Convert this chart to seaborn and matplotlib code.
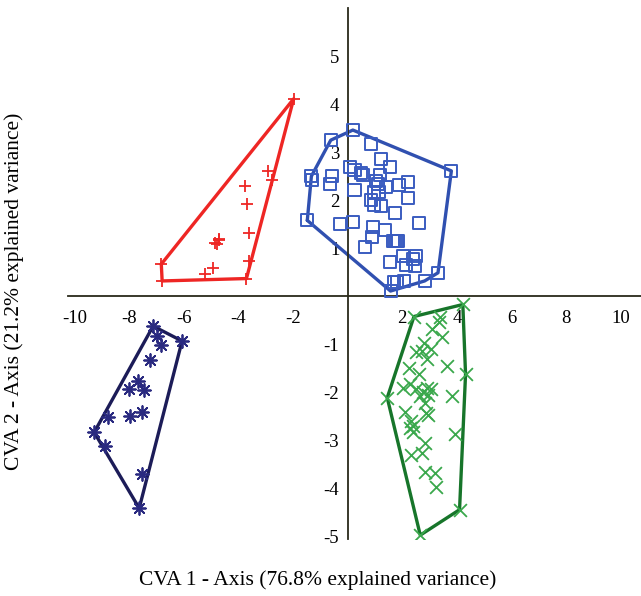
import numpy as np
import pandas as pd
import matplotlib
matplotlib.use("Agg")
import matplotlib.pyplot as plt
import seaborn as sns

# group 1 (red, plus)
red_x = [-1.98, -2.92, -2.76, -3.78, -3.68, -3.63, -3.62, -3.71, -4.73, -4.78,
         -4.70, -4.85, -4.93, -5.22, -6.83, -6.80]
red_y = [4.11, 2.61, 2.42, 2.29, 1.93, 1.32, 0.73, 0.37, 1.17, 1.08,
         1.20, 1.10, 0.58, 0.46, 0.67, 0.32]

# group 2 (blue, square)
blue_x = [0.19, -0.62, 0.84, 1.21, 1.56, 0.07, 0.25, 0.50, 0.56, 1.17,
          -1.33, -1.31, -0.58, -0.66, 1.05, 1.11, 1.42, 1.87, 2.21, 0.25,
          0.98, 1.13, 0.86, 2.21, 0.98, 1.22, 1.74, -1.48, -0.27, 0.19,
          2.60, 0.93, 1.36, 0.89, 1.66, 1.75, 1.80, 1.85, 0.64, 2.03,
          2.52, 2.39, 1.56, 2.15, 2.48, 3.31, 2.82, 2.08, 1.71, 1.80,
          1.57, 3.80]
blue_y = [3.46, 3.25, 3.16, 2.85, 2.70, 2.70, 2.62, 2.57, 2.53, 2.53,
          2.50, 2.43, 2.50, 2.33, 2.40, 2.33, 2.28, 2.31, 2.38, 2.22,
          2.17, 2.18, 2.00, 2.04, 1.91, 1.88, 1.73, 1.58, 1.50, 1.54,
          1.53, 1.45, 1.38, 1.24, 1.15, 1.15, 1.15, 1.15, 1.03, 0.84,
          0.84, 0.77, 0.71, 0.66, 0.63, 0.49, 0.32, 0.31, 0.29, 0.29,
          0.11, 2.61]

# group 3 (green, x)
green_x = [4.22, 2.43, 3.37, 3.33, 3.09, 3.46, 2.78, 3.06, 2.49, 2.90,
           2.73, 3.65, 2.23, 2.63, 4.32, 2.02, 2.30, 2.51, 2.91, 3.06,
           2.76, 2.94, 2.64, 3.82, 1.45, 2.82, 2.09, 2.88, 2.94, 2.31,
           2.39, 2.39, 2.27, 3.95, 2.82, 2.73, 2.33, 2.82, 3.21, 3.25,
           4.10, 2.66]
green_y = [-0.17, -0.42, -0.44, -0.53, -0.69, -0.85, -0.98, -1.09, -1.16, -1.30,
           -1.14, -1.45, -1.50, -1.62, -1.62, -1.90, -1.83, -1.92, -1.90, -1.93,
           -2.00, -2.06, -2.07, -2.07, -2.11, -2.21, -2.40, -2.42, -2.47, -2.59,
           -2.70, -2.82, -2.73, -2.87, -3.06, -3.25, -3.30, -3.65, -3.67, -3.96,
           -4.44, -4.97]

# group 4 (navy, asterisk)
navy_x = [-7.13, -6.98, -6.85, -6.07, -7.23, -7.68, -8.02, -7.46, -8.78, -7.96,
          -7.53, -9.29, -8.90, -7.53, -7.64]
navy_y = [-0.62, -0.82, -1.02, -0.93, -1.32, -1.76, -1.93, -1.95, -2.51, -2.49,
          -2.40, -2.83, -3.11, -3.69, -4.41]

x_ticks = [-10, -8, -6, -4, -2, 2, 4, 6, 8, 10]
y_ticks = [-5, -4, -3, -2, -1, 1, 2, 3, 4, 5]


def hull(xs, ys):
    """convex hull (monotone chain), returned closed"""
    pts = sorted(set(zip(xs, ys)))

    def cross(o, a, b):
        return (a[0] - o[0]) * (b[1] - o[1]) - (a[1] - o[1]) * (b[0] - o[0])

    lower, upper = [], []
    for p in pts:
        while len(lower) >= 2 and cross(lower[-2], lower[-1], p) <= 0:
            lower.pop()
        lower.append(p)
    for p in reversed(pts):
        while len(upper) >= 2 and cross(upper[-2], upper[-1], p) <= 0:
            upper.pop()
        upper.append(p)
    h = lower[:-1] + upper[:-1]
    h.append(h[0])
    return np.array(h)


sns.set_theme(style="white")
plt.rcParams["font.family"] = ["Liberation Serif", "DejaVu Serif"]
plt.rcParams["text.color"] = "black"
plt.rcParams["xtick.color"] = "black"
plt.rcParams["ytick.color"] = "black"

fig = plt.figure(figsize=(6.41, 5.96), dpi=100)
ax = fig.add_axes([68 / 641, (596 - 539) / 596, (641 - 68) / 641, (539 - 8) / 596])

groups = [
    (red_x, red_y, "#ee2624", "#ee2624", "+"),
    (blue_x, blue_y, "#3050b0", "#3a5cc0", "s"),
    (green_x, green_y, "#17752a", "#3aa84c", "x"),
    (navy_x, navy_y, "#1c1c58", "#2a2a80", (8, 2, 0)),
]

for xs, ys, line_c, mark_c, mk in groups:
    h = hull(xs, ys)
    ax.plot(h[:, 0], h[:, 1], color=line_c, lw=2.4, zorder=2)
    df = pd.DataFrame({"x": xs, "y": ys})
    if mk == "s":
        sns.scatterplot(data=df, x="x", y="y", ax=ax, marker="s", s=75,
                        facecolor="none", edgecolor=mark_c, linewidth=1.4, zorder=3)
    else:
        sns.scatterplot(data=df, x="x", y="y", ax=ax, marker=mk, s=85,
                        color=mark_c, linewidth=1.3, zorder=3)

ax.set_xlim(-10.25, 10.75)
ax.set_ylim(-5.05, 6.0)
ax.spines["left"].set_position(("data", 0))
ax.spines["bottom"].set_position(("data", 0))
ax.spines["top"].set_visible(False)
ax.spines["right"].set_visible(False)
for s in ["left", "bottom"]:
    ax.spines[s].set_color("#2a2a1a")
    ax.spines[s].set_linewidth(1.3)

ax.set_xticks(x_ticks)
ax.set_xticklabels([str(t) for t in x_ticks])
ax.set_yticks(y_ticks)
ax.set_yticklabels([str(t) for t in y_ticks])
ax.tick_params(axis="x", direction="in", length=5, width=1.2, color="#2a2a1a",
               labelsize=13.5, pad=10)
ax.tick_params(axis="y", direction="out", length=5, width=1.2, color="#2a2a1a",
               labelsize=13.5, pad=1)
ax.set_xlabel("")
ax.set_ylabel("")

fig.text(318 / 641, 1 - 580 / 596, "CVA 1 - Axis (76.8% explained variance)",
         ha="center", va="center", fontsize=15.5)
fig.text(14 / 641, 1 - 291 / 596, "CVA 2 - Axis (21.2% explained variance)",
         ha="center", va="center", rotation=90, fontsize=15.5)

plt.savefig("out.png", dpi=100)
